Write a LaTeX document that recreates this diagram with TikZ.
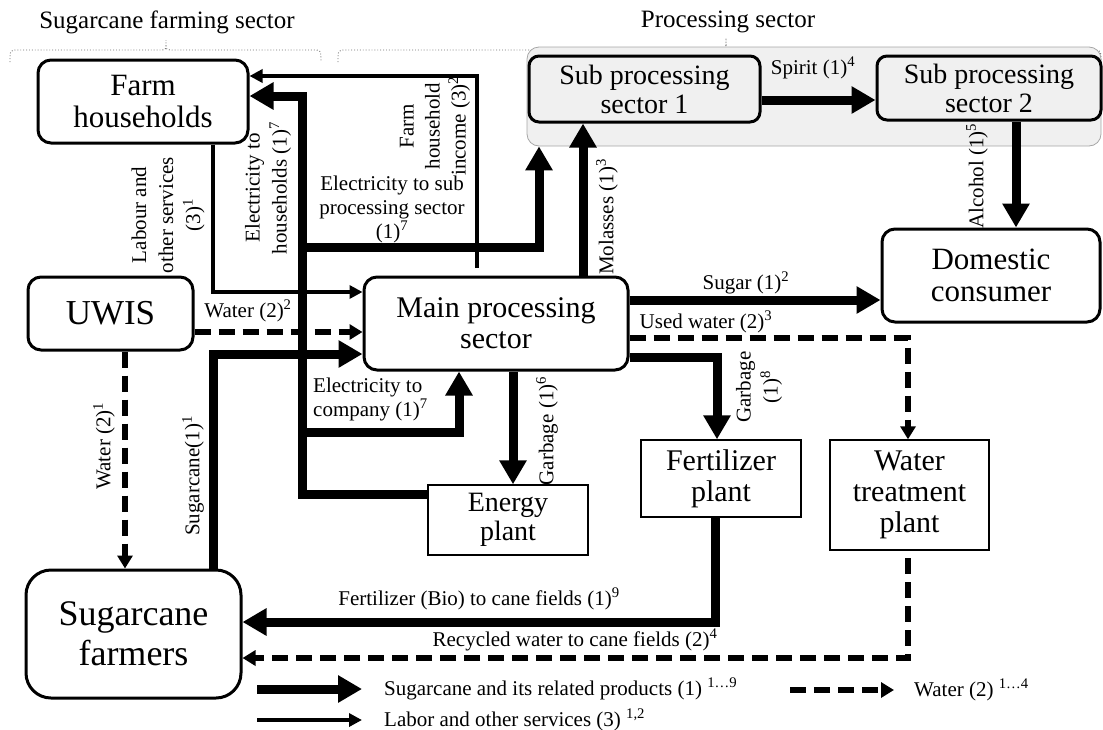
\documentclass[tikz,border=0pt]{standalone}
\usepackage{fontspec}
\setmainfont{Liberation Serif}
\usetikzlibrary{arrows.meta,calc}
\definecolor{panel}{HTML}{F0F0F0}
\definecolor{bracegray}{HTML}{707070}

\tikzset{
  rbox/.style={draw, line width=3pt, rounded corners=13pt, align=center, inner sep=0pt, fill=white},
  sqbox/.style={draw, line width=1.4pt, align=center, inner sep=0pt, fill=white},
  lbl/.style={inner sep=0pt, font=\fontsize{21}{24}\selectfont, align=center},
  heavy/.style={line width=9pt, -{Triangle[length=24pt,width=26pt]}},
  light/.style={line width=3.5pt, -{Triangle[length=13pt,width=13pt]}},
  wet/.style={line width=5.5pt, dash pattern=on 16pt off 8pt, -{Triangle[length=13pt,width=15pt]}},
  brace/.style={draw=bracegray, line width=0.9pt, dotted},
}

\begin{document}
\begin{tikzpicture}[x=1pt,y=-1pt]
\useasboundingbox (0,0) rectangle (1103,729);

% sector headings and their braces
\node[font=\fontsize{25}{28}\selectfont, inner sep=0pt] (t1) at (167,22) {Sugarcane farming sector};
\node[font=\fontsize{25}{28}\selectfont, inner sep=0pt] (t2) at (728,22) {Processing sector};
\draw[brace] (10,62) .. controls (10,50) .. (18,50) -- (160,50) .. controls (166,50) .. (166,40)
             .. controls (166,50) .. (172,50) -- (313,50) .. controls (321,50) .. (321,62);
\draw[brace] (338,62) .. controls (338,50) .. (346,50) -- (720,50) .. controls (726,50) .. (726,38)
             .. controls (726,50) .. (732,50) -- (1093,50) .. controls (1101,50) .. (1101,62);

% processing sector backdrop
\node[draw=gray!70, line width=0.8pt, fill=panel, rounded corners=12pt,
      minimum width=574pt, minimum height=99pt, inner sep=0pt] (grp) at (814,96.5) {};

% actors
\node[rbox, minimum width=210pt, minimum height=83pt, font=\fontsize{31}{32}\selectfont] (farm) at (143,101.5) {Farm\\households};
\node[rbox, fill=panel, rounded corners=10pt, minimum width=231pt, minimum height=66pt, font=\fontsize{28}{29}\selectfont] (sub1) at (644.5,89) {Sub processing\\sector 1};
\node[rbox, fill=panel, rounded corners=10pt, minimum width=224pt, minimum height=64pt, font=\fontsize{28}{29}\selectfont] (sub2) at (989,88) {Sub processing\\sector 2};
\node[rbox, minimum width=218pt, minimum height=93pt, font=\fontsize{31}{32}\selectfont] (dom) at (991,275.5) {Domestic\\consumer};
\node[rbox, minimum width=165pt, minimum height=73pt, font=\fontsize{35}{36}\selectfont] (uwis) at (110.5,313.5) {UWIS};
\node[rbox, minimum width=264pt, minimum height=93pt, font=\fontsize{30}{31}\selectfont] (main) at (496,323.5) {Main processing\\sector};
\node[sqbox, minimum width=160pt, minimum height=70pt, font=\fontsize{28}{29}\selectfont] (energy) at (508,520) {Energy\\plant};
\node[sqbox, minimum width=160pt, minimum height=77pt, font=\fontsize{30}{31}\selectfont] (fert) at (721,478.5) {Fertilizer\\plant};
\node[sqbox, minimum width=159pt, minimum height=110pt, font=\fontsize{30}{31}\selectfont] (water) at (909.5,495) {Water\\treatment\\plant};
\node[rbox, rounded corners=25pt, minimum width=215pt, minimum height=128pt, font=\fontsize{36}{40}\selectfont] (farmers) at (133.5,634) {Sugarcane\\farmers};

% bend points
\coordinate (incA) at (477,268);
\coordinate (incB) at (477,76);
\coordinate (ehA) at (302,494);
\coordinate (ehB) at (302,96);
\coordinate (esA) at (302,247);
\coordinate (esB) at (539,247);
\coordinate (ecA) at (302,432);
\coordinate (ecB) at (459,432);
\coordinate (labA) at (213,292);
\coordinate (w2) at (0,332);
\coordinate (scA) at (213,354);
\coordinate (w1) at (125,0);
\coordinate (mol) at (583,0);
\coordinate (spi) at (0,100);
\coordinate (alc) at (1016,0);
\coordinate (sug) at (0,300);
\coordinate (uwA) at (908,338);
\coordinate (g8A) at (717,357);
\coordinate (g6) at (513,0);
\coordinate (fbA) at (715,622);
\coordinate (rwA) at (908,558);
\coordinate (rwB) at (908,658);

% flows
\draw[light] (incA) -- (incB) -- (farm.east |- incB);
\draw[light] (farm.south -| labA) -- (labA) -- (main.west |- labA);
\draw[heavy] (energy.west |- ehA) -- (ehA) -- (ehB) -- (farm.east |- ehB);
\draw[heavy] (esA) -- (esB) -- (grp.south -| esB);
\draw[heavy] (ecA) -- (ecB) -- (main.south -| ecB);
\draw[wet] (uwis.east |- w2) -- (main.west |- w2);
\draw[heavy] (farmers.north -| scA) -- (scA) -- (main.west |- scA);
\draw[wet] (uwis.south -| w1) -- (farmers.north -| w1);
\draw[heavy] (main.north -| mol) -- (sub1.south -| mol);
\draw[heavy] (sub1.east |- spi) -- (sub2.west |- spi);
\draw[heavy] (sub2.south -| alc) -- (dom.north -| alc);
\draw[heavy] (main.east |- sug) -- (dom.west |- sug);
\draw[wet] (main.east |- uwA) -- (uwA) -- (water.north -| uwA);
\draw[heavy] (main.east |- g8A) -- (g8A) -- (fert.north -| g8A);
\draw[heavy] (main.south -| g6) -- (energy.north -| g6);
\draw[heavy] (fert.south -| fbA) -- (fbA) -- (farmers.east |- fbA);
\draw[wet] (rwA) -- (rwB) -- (farmers.east |- rwB);

% flow labels
\node[lbl, rotate=90, font=\fontsize{21}{27}\selectfont] (lLab) at (168,215) {Labour and\\other services\\(3)\textsuperscript{1}};
\node[lbl, rotate=90, font=\fontsize{21}{27}\selectfont] (lEh) at (268,188) {Electricity to\\households (1)\textsuperscript{7}};
\node[lbl, rotate=90, font=\fontsize{21}{26}\selectfont] (lInc) at (435,126) {Farm\\household\\income (3)\textsuperscript{2}};
\node[lbl] (lEs) at (392,209) {Electricity to sub\\processing sector\\(1)\textsuperscript{7}};
\node[lbl] (lW2) at (248,311) {Water (2)\textsuperscript{2}};
\node[lbl, anchor=west, align=left] (lEc) at (313,399) {Electricity to\\company (1)\textsuperscript{7}};
\node[lbl, rotate=90] (lSc) at (193,476) {Sugarcane(1)\textsuperscript{1}};
\node[lbl, rotate=90] (lW1) at (104,446) {Water (2)\textsuperscript{1}};
\node[lbl, rotate=90] (lMol) at (607,217) {Molasses (1)\textsuperscript{3}};
\node[lbl] (lSpi) at (813,68) {Spirit (1)\textsuperscript{4}};
\node[lbl, rotate=90] (lAlc) at (977,176) {Alcohol (1)\textsuperscript{5}};
\node[lbl] (lSug) at (746,283) {Sugar (1)\textsuperscript{2}};
\node[lbl] (lUw) at (706,322) {Used water (2)\textsuperscript{3}};
\node[lbl, rotate=90, font=\fontsize{21}{27}\selectfont] (lG8) at (759,387) {Garbage\\(1)\textsuperscript{8}};
\node[lbl, rotate=90] (lG6) at (547,431) {Garbage (1)\textsuperscript{6}};
\node[lbl] (lFb) at (479,599) {Fertilizer (Bio) to cane fields (1)\textsuperscript{9}};
\node[lbl] (lRw) at (575,640) {Recycled water to cane fields (2)\textsuperscript{4}};

% key
\coordinate (k1a) at (257,689);
\coordinate (k1b) at (362,689);
\coordinate (k2a) at (790,690);
\coordinate (k2b) at (894,690);
\coordinate (k3a) at (257,720);
\coordinate (k3b) at (362,720);
\draw[heavy] (k1a) -- (k1b);
\draw[wet] (k2a) -- (k2b);
\draw[light] (k3a) -- (k3b);
\node[lbl, anchor=west] (k1t) at (384,689) {Sugarcane and its related products (1) \textsuperscript{1…9}};
\node[lbl, anchor=west] (k2t) at (914,690) {Water (2) \textsuperscript{1…4}};
\node[lbl, anchor=west] (k3t) at (384,720) {Labor and other services (3) \textsuperscript{1,2}};
\end{tikzpicture}
\end{document}
